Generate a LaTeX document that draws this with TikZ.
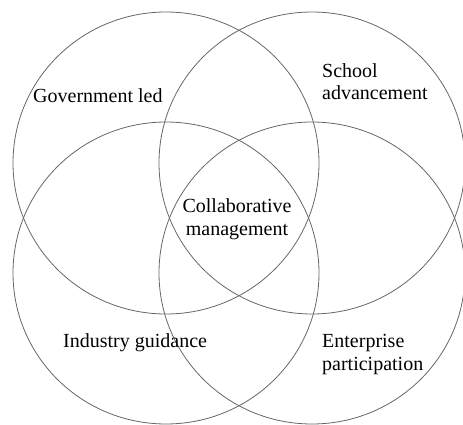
\documentclass[tikz,border=0pt]{standalone}
\usepackage{fontspec}
\setmainfont{Liberation Serif}
\usetikzlibrary{positioning}

\begin{document}
\begin{tikzpicture}[
    x=1pt, y=-1pt,
    ring/.style={draw=black!60, line width=0.8pt},
    label/.style={inner sep=0pt, font=\fontsize{20}{22.5}\selectfont}
]
    \useasboundingbox (0,0) rectangle (463,425);

    % Circle centres
    \coordinate (gov) at (166,163);
    \coordinate (school) at (312,163);
    \coordinate (industry) at (166,273);
    \coordinate (enterprise) at (312,273);

    % Circles
    \foreach \c in {gov, school, industry, enterprise}
        \draw[ring] (\c) ellipse [x radius=153pt, y radius=151pt];

    % Labels (base = baseline of the last line)
    \node[label, anchor=base west] (govlabel) at (33,103) {Government led};
    \node[label, anchor=base west, align=left] (schoollabel) at (322,100) {School\\advancement};
    \node[label, anchor=base, align=center] (collablabel) at (237,235) {Collaborative\\management};
    \node[label, anchor=base west] (industrylabel) at (63,347) {Industry guidance};
    \node[label, anchor=base west, align=left] (enterpriselabel) at (322,370) {Enterprise\\participation};

\end{tikzpicture}
\end{document}
